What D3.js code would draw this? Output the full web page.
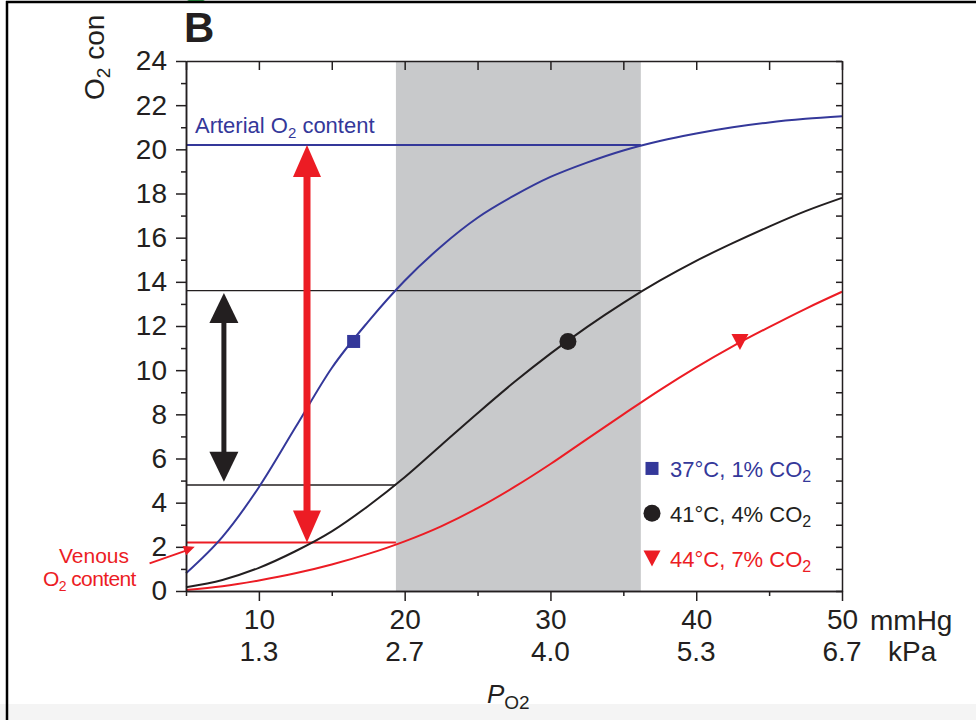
<!DOCTYPE html>
<html>
<head>
<meta charset="utf-8">
<script src="https://cdn.jsdelivr.net/npm/d3@7/dist/d3.min.js"></script>
<style>
  html, body { margin: 0; padding: 0; background: #fff; }
  svg { display: block; font-family: "Liberation Sans", Arial, Helvetica, sans-serif; }
</style>
</head>
<body>
<svg id="chart" width="976" height="720"></svg>
<script>
// ---------- data ----------
const po2 = [5, 7.5, 10, 12.5, 15, 17.5, 20, 22.5, 25, 27.5, 30, 32.5, 35, 37.5, 40, 42.5, 45, 47.5, 50];
const blue37 = [0.8, 2.45, 4.7, 7.4, 10.1, 12.2, 14.05, 15.6, 16.9, 17.9, 18.75, 19.4, 19.95, 20.38, 20.72, 21.0, 21.22, 21.38, 21.5];
const black41 = [0.17, 0.5, 1.05, 1.8, 2.7, 3.85, 5.15, 6.6, 8.05, 9.45, 10.75, 11.95, 13.05, 14.05, 14.95, 15.75, 16.5, 17.2, 17.8];
const red44 = [0.05, 0.22, 0.48, 0.8, 1.2, 1.68, 2.25, 2.93, 3.75, 4.7, 5.75, 6.88, 8.0, 9.1, 10.13, 11.08, 11.95, 12.78, 13.55];
const markerX = [16.5, 31.2, 43.0];
const markerY = [11.3, 11.3, 11.3];
const seriesNames = ["37\u00b0C, 1% CO", "41\u00b0C, 4% CO", "44\u00b0C, 7% CO"];
const mmHgTicks = [10, 20, 30, 40, 50];
const kPaLabels = ["1.3", "2.7", "4.0", "5.3", "6.7"];
const minorX = [5, 15, 25, 35, 45];
const yMajor = [0, 2, 4, 6, 8, 10, 12, 14, 16, 18, 20, 22, 24];
const yMinor = [1, 3, 5, 7, 9, 11, 13, 15, 17, 19, 21, 23];
const shadeRange = [19.4, 36.2];
const arterialO2 = 20.2;
const venousO2 = 2.2;
const blackLines = [[13.6, 36.2], [4.8, 19.4]];
const redArrow = { x: 13.3, y1: 2.2, y2: 20.2 };
const blackArrow = { x: 7.6, y1: 4.95, y2: 13.5 };

// ---------- setup ----------
const BLUE = "#34389a", RED = "#ec1c24", BLACK = "#231f20", GRAY = "#c8c9cb";
const svg = d3.select("#chart");
const x = d3.scaleLinear().domain([5, 50]).range([186, 842]);
const y = d3.scaleLinear().domain([0, 24]).range([591, 61]);

// frame of the figure
svg.append("rect").attr("x", 0).attr("y", 704).attr("width", 976).attr("height", 16).attr("fill", "#f4f4f4");
svg.append("circle").attr("cx", 196).attr("cy", -12).attr("r", 15).attr("fill", "#2f9e4a");
svg.append("line").attr("x1", 6).attr("x2", 976).attr("y1", 2).attr("y2", 2).attr("stroke", "#000").attr("stroke-width", 2.5);
svg.append("line").attr("x1", 7).attr("x2", 7).attr("y1", 1).attr("y2", 720).attr("stroke", "#000").attr("stroke-width", 2.5);

// shaded region
svg.append("rect")
  .attr("x", x(shadeRange[0])).attr("y", y(24))
  .attr("width", x(shadeRange[1]) - x(shadeRange[0]))
  .attr("height", y(0) - y(24))
  .attr("fill", GRAY);

// horizontal reference lines
svg.append("line").attr("x1", x(5)).attr("x2", x(shadeRange[1]))
  .attr("y1", y(arterialO2)).attr("y2", y(arterialO2))
  .attr("stroke", BLUE).attr("stroke-width", 2);
blackLines.forEach(([v, xe]) => {
  svg.append("line").attr("x1", x(5)).attr("x2", x(xe))
    .attr("y1", y(v)).attr("y2", y(v))
    .attr("stroke", BLACK).attr("stroke-width", 1.3);
});
svg.append("line").attr("x1", x(5)).attr("x2", x(shadeRange[0]))
  .attr("y1", y(venousO2)).attr("y2", y(venousO2))
  .attr("stroke", RED).attr("stroke-width", 2);

// curves
const line = d3.line().x((d, i) => x(po2[i])).y(d => y(d)).curve(d3.curveMonotoneX);
[[blue37, BLUE], [black41, BLACK], [red44, RED]].forEach(([s, c]) => {
  svg.append("path").datum(s).attr("d", line)
    .attr("fill", "none").attr("stroke", c).attr("stroke-width", 2);
});

// double arrows
function doubleArrow(a, color, stemW, headW, headH) {
  const cx = x(a.x), top = y(a.y2), bot = y(a.y1);
  const g = svg.append("g").attr("fill", color);
  g.append("rect").attr("x", cx - stemW / 2).attr("y", top + headH - 2)
    .attr("width", stemW).attr("height", bot - top - 2 * headH + 4);
  g.append("path").attr("d", `M${cx},${top} L${cx + headW / 2},${top + headH} L${cx - headW / 2},${top + headH} Z`);
  g.append("path").attr("d", `M${cx},${bot} L${cx + headW / 2},${bot - headH} L${cx - headW / 2},${bot - headH} Z`);
}
doubleArrow(redArrow, RED, 7, 28, 32);
doubleArrow(blackArrow, BLACK, 5, 29, 30);

// markers
function drawMarker(g, type, cx, cy, color) {
  if (type === 0) {
    g.append("rect").attr("x", cx - 6.5).attr("y", cy - 6.5).attr("width", 13).attr("height", 13).attr("fill", color);
  } else if (type === 1) {
    g.append("circle").attr("cx", cx).attr("cy", cy).attr("r", 8.5).attr("fill", color);
  } else {
    g.append("path").attr("d", `M${cx - 8.5},${cy - 7.5} L${cx + 8.5},${cy - 7.5} L${cx},${cy + 8.5} Z`).attr("fill", color);
  }
}
const colors = [BLUE, BLACK, RED];
markerX.forEach((mx, i) => drawMarker(svg, i, x(mx), y(markerY[i]), colors[i]));

// axes
const axisColor = "#231f20";
function styleAxis(g) {
  g.selectAll("path, line").attr("stroke", axisColor).attr("stroke-width", 1.5);
  g.selectAll("text").attr("fill", BLACK).attr("font-size", 28)
    .attr("font-family", "'Liberation Sans', Arial, sans-serif");
}
// left
const gl = svg.append("g").attr("transform", `translate(${x(5)},0)`)
  .call(d3.axisLeft(y).tickValues(yMajor).tickSize(10).tickSizeOuter(0).tickPadding(9).tickFormat(d3.format("d")));
styleAxis(gl);
const glm = svg.append("g").attr("transform", `translate(${x(5)},0)`)
  .call(d3.axisLeft(y).tickValues(yMinor).tickSize(5).tickSizeOuter(0).tickFormat(""));
styleAxis(glm);
// right
const gr = svg.append("g").attr("transform", `translate(${x(50)},0)`)
  .call(d3.axisRight(y).tickValues(yMajor.concat(yMinor)).tickSize(-6).tickSizeOuter(0).tickFormat(""));
styleAxis(gr);
// bottom
const gb = svg.append("g").attr("transform", `translate(0,${y(0)})`)
  .call(d3.axisBottom(x).tickValues(mmHgTicks).tickSize(10).tickSizeOuter(0).tickPadding(8).tickFormat(d3.format("d")));
styleAxis(gb);
gb.selectAll(".tick text").attr("dy", "0.71em");
const gbm = svg.append("g").attr("transform", `translate(0,${y(0)})`)
  .call(d3.axisBottom(x).tickValues(minorX).tickSize(5).tickSizeOuter(0).tickFormat(""));
styleAxis(gbm);
// top
const gt = svg.append("g").attr("transform", `translate(0,${y(24)})`)
  .call(d3.axisTop(x).tickValues(mmHgTicks.concat(minorX)).tickSize(-9).tickSizeOuter(0).tickFormat(""));
styleAxis(gt);

// kPa row
svg.append("g").selectAll("text").data(kPaLabels).join("text")
  .attr("x", (d, i) => x(mmHgTicks[i])).attr("y", 661)
  .attr("text-anchor", "middle").attr("font-size", 28).attr("fill", BLACK).text(d => d);
svg.append("text").attr("x", 870).attr("y", 630).attr("font-size", 28).attr("fill", BLACK).text("mmHg");
svg.append("text").attr("x", 888).attr("y", 661).attr("font-size", 28).attr("fill", BLACK).text("kPa");

// x axis title
const xt = svg.append("text").attr("x", 487).attr("y", 703).attr("fill", BLACK);
xt.append("tspan").attr("font-size", 26).attr("font-style", "italic").text("P");
xt.append("tspan").attr("font-size", 19).attr("dy", 6).text("O2");

// y axis title (cropped in the original figure)
const yt = svg.append("text").attr("transform", "translate(104,100) rotate(-90)").attr("fill", BLACK).attr("font-size", 28);
yt.append("tspan").text("O");
yt.append("tspan").attr("font-size", 19).attr("dy", 6).text("2");
yt.append("tspan").attr("dy", -6).text(" con");

// panel letter
svg.append("text").attr("x", 184).attr("y", 42).attr("font-size", 42).attr("font-weight", "bold")
  .attr("fill", BLACK).text("B");

// arterial label
const at = svg.append("text").attr("x", 195).attr("y", 133).attr("font-size", 22).attr("fill", BLUE);
at.append("tspan").text("Arterial O");
at.append("tspan").attr("font-size", 15).attr("dy", 5).text("2");
at.append("tspan").attr("dy", -5).text(" content");

// venous label + arrow
svg.append("text").attr("x", 94).attr("y", 563).attr("text-anchor", "middle")
  .attr("font-size", 21).attr("fill", RED).text("Venous");
const vt = svg.append("text").attr("x", 43).attr("y", 586).attr("font-size", 21).attr("fill", RED).attr("letter-spacing", -0.6);
vt.append("tspan").text("O");
vt.append("tspan").attr("font-size", 14).attr("dy", 5).text("2");
vt.append("tspan").attr("dy", -5).text(" content");
const vax0 = x(2.5), vay0 = y(1.25), vax1 = x(5.6), vay1 = y(2.0);
svg.append("line").attr("x1", vax0).attr("y1", vay0).attr("x2", vax1 - 8).attr("y2", vay1 + 3.5)
  .attr("stroke", RED).attr("stroke-width", 2);
{
  const ang = Math.atan2(vay1 - vay0, vax1 - vax0);
  const L = 11, W = 5;
  const bx = vax1 - L * Math.cos(ang), by = vay1 - L * Math.sin(ang);
  const px = -Math.sin(ang) * W, py = Math.cos(ang) * W;
  svg.append("path").attr("d", `M${vax1},${vay1} L${bx + px},${by + py} L${bx - px},${by - py} Z`).attr("fill", RED);
}

// legend
const legendY = [5.55, 3.52, 1.5];
const lg = svg.append("g");
seriesNames.forEach((name, i) => {
  const cy = y(legendY[i]);
  drawMarker(lg, i, 652, cy, colors[i]);
  const t = lg.append("text").attr("x", 670).attr("y", cy + 9).attr("font-size", 22).attr("fill", colors[i]);
  t.append("tspan").text(name);
  t.append("tspan").attr("font-size", 16).attr("dy", 5).text("2");
});
</script>
</body>
</html>
